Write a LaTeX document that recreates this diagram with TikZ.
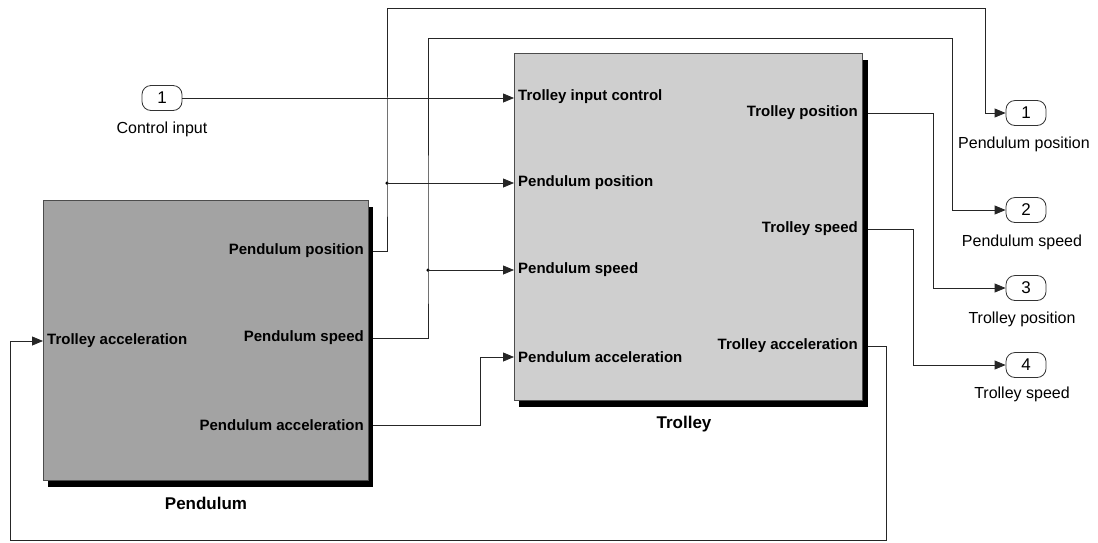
\documentclass[tikz,border=0pt]{standalone}
\usepackage{fontspec}
\setmainfont{Liberation Sans}
\usetikzlibrary{arrows.meta}
\begin{document}
\begin{tikzpicture}[x=1pt,y=-1pt,
  wire/.style={line width=0.8pt, draw=black!85},
  arr/.style={wire,-{Triangle[length=11pt,width=9pt]}},
  blockbody/.style={draw=black!70, line width=0.6pt, inner sep=0pt, anchor=north west},
  inlab/.style={font=\bfseries\fontsize{15}{17}\selectfont, anchor=west, inner sep=0pt},
  outlab/.style={font=\bfseries\fontsize{15}{17}\selectfont, anchor=east, inner sep=0pt},
  blockname/.style={font=\bfseries\fontsize{17}{19}\selectfont},
  port/.style={draw=black!80, line width=0.8pt, rounded corners=9pt, minimum width=40pt, minimum height=25pt, inner sep=0pt, font=\fontsize{17}{19}\selectfont},
  portlab/.style={font=\fontsize{16}{18}\selectfont},
  junction/.style={circle, fill=black, inner sep=0pt, minimum size=3.5pt}
]
\useasboundingbox (0,0) rectangle (1098,542);

% ---- blocks with shadows
\fill[black] (48,207) rectangle (373,487);
\node[blockbody, fill=black!36, minimum width=325pt, minimum height=280pt] (pend) at (43,200) {};
\fill[black] (519,60) rectangle (868,407);
\node[blockbody, fill=black!19, minimum width=348pt, minimum height=347pt] (trol) at (514,53) {};

\node[blockname] (pendname) at (206,503) {Pendulum};
\node[blockname] (trolname) at (684,424) {Trolley};

% ---- block port labels
\node[inlab] (pl-ta) at (47,341) {Trolley acceleration};
\node[outlab] (pl-pp) at (364,251) {Pendulum position};
\node[outlab] (pl-ps) at (364,338) {Pendulum speed};
\node[outlab] (pl-pa) at (364,425) {Pendulum acceleration};

\node[inlab] (tl-ic) at (518,97) {Trolley input control};
\node[inlab] (tl-pp) at (518,183) {Pendulum position};
\node[inlab] (tl-ps) at (518,270) {Pendulum speed};
\node[inlab] (tl-pa) at (518,357) {Pendulum acceleration};
\node[outlab] (tl-tp) at (858,113) {Trolley position};
\node[outlab] (tl-ts) at (858,229) {Trolley speed};
\node[outlab] (tl-tac) at (858,346) {Trolley acceleration};

% ---- ports
\node[port] (ci) at (162,98) {1};
\node[portlab] (cilab) at (162,129) {Control input};
\node[port] (o1) at (1026,113) {1};
\node[portlab] (o1lab) at (1024,144) {Pendulum position};
\node[port] (o2) at (1026,210) {2};
\node[portlab] (o2lab) at (1022,242) {Pendulum speed};
\node[port] (o3) at (1026,288) {3};
\node[portlab] (o3lab) at (1022,319) {Trolley position};
\node[port] (o4) at (1026,365) {4};
\node[portlab] (o4lab) at (1022,394) {Trolley speed};

% ---- port coordinates on the blocks
\coordinate (pin-ta) at (43,341);
\coordinate (pout-pp) at (373,251);
\coordinate (pout-ps) at (373,338);
\coordinate (pout-pa) at (373,425);
\coordinate (tin-ic) at (514,98);
\coordinate (tin-pp) at (514,183);
\coordinate (tin-ps) at (514,270);
\coordinate (tin-pa) at (514,357);
\coordinate (tout-tp) at (868,113);
\coordinate (tout-ts) at (868,229);
\coordinate (tout-ta) at (868,346);

\node[junction] (j1) at (387,183) {};
\node[junction] (j2) at (428,270) {};

% ---- connectors
\draw[arr] (ci.east) -- (tin-ic);
\draw[arr] (pout-pp) -| (j1.center) |- (985,8) |- (o1.west);
\draw[arr] (j1.center) -- (tin-pp);
\draw[arr] (pout-ps) -| (j2.center) |- (952,38) |- (o2.west);
\draw[arr] (j2.center) -- (tin-ps);
\draw[arr] (pout-pa) -| (480,357) -- (tin-pa);
\draw[arr] (tout-tp) -| (933,288) -- (o3.west);
\draw[arr] (tout-ts) -| (913,365) -- (o4.west);
\draw[arr] (tout-ta) -| (886,540) -| (10,341) -- (pin-ta);
\end{tikzpicture}
\end{document}
